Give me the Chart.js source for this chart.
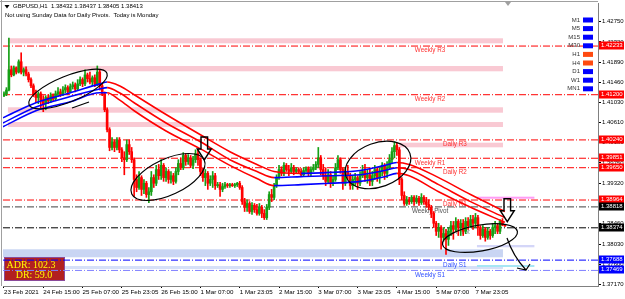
<!DOCTYPE html>
<html>
<head>
<meta charset="utf-8">
<title>GBPUSD,H1</title>
<script src="https://cdn.jsdelivr.net/npm/chart.js@4.4.1/dist/chart.umd.min.js"></script>
<style>
  html, body { margin: 0; padding: 0; background: #fff; }
  canvas { display: block; }
</style>
</head>
<body>
<canvas id="chart" width="625" height="299"></canvas>
<script>
// GBPUSD H1, 23 Feb - 8 Mar 2021. Open of each bar = close of the bar before.
const symbol = 'GBPUSD,H1';
const firstOpen = 1.4118;

const closes = [
  1.4122, 1.4130, 1.4173, 1.4162, 1.4177, 1.4168, 1.4190, 1.4168, 1.4173, 1.4164,
  1.4152, 1.4139, 1.4120, 1.4114, 1.4122, 1.4109, 1.4101, 1.4114, 1.4107, 1.4118,
  1.4111, 1.4122, 1.4126, 1.4120, 1.4130, 1.4135, 1.4126, 1.4137, 1.4141, 1.4132,
  1.4143, 1.4152, 1.4143, 1.4162, 1.4154, 1.4147, 1.4156, 1.4143, 1.4168, 1.4139,
  1.4122, 1.4088, 1.4046, 1.4008, 1.4020, 1.4008, 1.4024, 1.4003, 1.3986, 1.3982,
  1.4014, 1.3999, 1.3982, 1.3940, 1.3923, 1.3944, 1.3919, 1.3932, 1.3908, 1.3914,
  1.3944, 1.3932, 1.3961, 1.3948, 1.3970, 1.3944, 1.3957, 1.3940, 1.3948, 1.3936,
  1.3957, 1.3974, 1.3965, 1.3991, 1.3978, 1.3986, 1.3970, 1.3982, 1.3995, 1.3982,
  1.3957, 1.3944, 1.3953, 1.3932, 1.3940, 1.3948, 1.3927, 1.3929, 1.3919, 1.3925,
  1.3929, 1.3927, 1.3929, 1.3927, 1.3929, 1.3932, 1.3923, 1.3893, 1.3881, 1.3889,
  1.3872, 1.3885, 1.3876, 1.3868, 1.3881, 1.3868, 1.3859, 1.3881, 1.3908, 1.3902,
  1.3927, 1.3944, 1.3961, 1.3953, 1.3970, 1.3961, 1.3957, 1.3965, 1.3957, 1.3961,
  1.3957, 1.3950, 1.3959, 1.3963, 1.3953, 1.3961, 1.3965, 1.3972, 1.3986, 1.3961,
  1.3948, 1.3936, 1.3950, 1.3932, 1.3940, 1.3965, 1.3982, 1.3961, 1.3932, 1.3957,
  1.3948, 1.3927, 1.3940, 1.3944, 1.3932, 1.3948, 1.3957, 1.3944, 1.3950, 1.3936,
  1.3948, 1.3961, 1.3944, 1.3957, 1.3970, 1.3953, 1.3965, 1.3982, 1.3999, 1.4012,
  1.4003, 1.3940, 1.3906, 1.3889, 1.3897, 1.3893, 1.3902, 1.3893, 1.3900, 1.3891,
  1.3902, 1.3893, 1.3887, 1.3881, 1.3868, 1.3847, 1.3830, 1.3838, 1.3817, 1.3825,
  1.3813, 1.3830, 1.3842, 1.3834, 1.3851, 1.3838, 1.3847, 1.3830, 1.3851, 1.3842,
  1.3855, 1.3847, 1.3859, 1.3838, 1.3821, 1.3834, 1.3817, 1.3830, 1.3821, 1.3838,
  1.3842, 1.3830, 1.3851, 1.38432, 1.38413
];

const highs = [
  1.4126, 1.4135, 1.4240, 1.4181, 1.4181, 1.4179, 1.4194, 1.4209, 1.4177, 1.4179,
  1.4168, 1.4156, 1.4143, 1.4130, 1.4126, 1.4126, 1.4118, 1.4118, 1.4120, 1.4124,
  1.4122, 1.4128, 1.4135, 1.4132, 1.4137, 1.4141, 1.4139, 1.4143, 1.4147, 1.4145,
  1.4152, 1.4158, 1.4156, 1.4173, 1.4166, 1.4168, 1.4160, 1.4162, 1.4181, 1.4173,
  1.4143, 1.4126, 1.4092, 1.4050, 1.4029, 1.4024, 1.4029, 1.4029, 1.4008, 1.3999,
  1.4024, 1.4024, 1.4008, 1.3986, 1.3950, 1.3957, 1.3948, 1.3940, 1.3936, 1.3923,
  1.3957, 1.3950, 1.3970, 1.3972, 1.3982, 1.3974, 1.3965, 1.3961, 1.3957, 1.3953,
  1.3965, 1.3982, 1.3986, 1.3997, 1.3995, 1.3993, 1.3991, 1.3989, 1.4003, 1.4003,
  1.3986, 1.3965, 1.3961, 1.3957, 1.3948, 1.3957, 1.3953, 1.3934, 1.3934, 1.3932,
  1.3934, 1.3932, 1.3932, 1.3932, 1.3932, 1.3934, 1.3936, 1.3927, 1.3900, 1.3897,
  1.3893, 1.3891, 1.3889, 1.3887, 1.3889, 1.3885, 1.3876, 1.3887, 1.3914, 1.3919,
  1.3932, 1.3950, 1.3970, 1.3967, 1.3976, 1.3974, 1.3970, 1.3974, 1.3970, 1.3965,
  1.3965, 1.3963, 1.3965, 1.3967, 1.3967, 1.3967, 1.3972, 1.3978, 1.4008, 1.3991,
  1.3972, 1.3965, 1.3961, 1.3957, 1.3948, 1.3974, 1.3991, 1.3986, 1.3965, 1.3965,
  1.3970, 1.3953, 1.3948, 1.3953, 1.3948, 1.3957, 1.3970, 1.3972, 1.3961, 1.3965,
  1.3957, 1.3970, 1.3965, 1.3965, 1.3976, 1.3974, 1.3978, 1.3993, 1.4008, 1.4020,
  1.4018, 1.4008, 1.3944, 1.3914, 1.3904, 1.3902, 1.3906, 1.3906, 1.3906, 1.3904,
  1.3910, 1.3906, 1.3902, 1.3897, 1.3885, 1.3872, 1.3851, 1.3847, 1.3842, 1.3838,
  1.3834, 1.3838, 1.3851, 1.3851, 1.3859, 1.3855, 1.3855, 1.3855, 1.3859, 1.3859,
  1.3864, 1.3864, 1.3868, 1.3864, 1.3842, 1.3842, 1.3838, 1.3838, 1.3834, 1.3847,
  1.3851, 1.3847, 1.3855, 1.3857, 1.38437
];

const lows = [
  1.4116, 1.4118, 1.4128, 1.4158, 1.4160, 1.4164, 1.4166, 1.4164, 1.4160, 1.4160,
  1.4147, 1.4135, 1.4116, 1.4103, 1.4101, 1.4092, 1.4084, 1.4088, 1.4101, 1.4103,
  1.4105, 1.4107, 1.4116, 1.4116, 1.4118, 1.4124, 1.4120, 1.4124, 1.4132, 1.4126,
  1.4130, 1.4139, 1.4137, 1.4139, 1.4147, 1.4143, 1.4139, 1.4137, 1.4139, 1.4130,
  1.4118, 1.4084, 1.4041, 1.4001, 1.4003, 1.3999, 1.4003, 1.3997, 1.3978, 1.3950,
  1.3978, 1.3993, 1.3976, 1.3904, 1.3914, 1.3919, 1.3906, 1.3910, 1.3902, 1.3891,
  1.3906, 1.3923, 1.3927, 1.3940, 1.3940, 1.3936, 1.3936, 1.3932, 1.3932, 1.3929,
  1.3932, 1.3950, 1.3961, 1.3961, 1.3970, 1.3972, 1.3965, 1.3963, 1.3976, 1.3970,
  1.3948, 1.3936, 1.3927, 1.3919, 1.3927, 1.3923, 1.3919, 1.3923, 1.3904, 1.3914,
  1.3921, 1.3923, 1.3923, 1.3925, 1.3923, 1.3925, 1.3919, 1.3887, 1.3872, 1.3872,
  1.3868, 1.3866, 1.3870, 1.3864, 1.3864, 1.3859, 1.3855, 1.3855, 1.3876, 1.3893,
  1.3897, 1.3923, 1.3940, 1.3948, 1.3948, 1.3957, 1.3948, 1.3953, 1.3950, 1.3953,
  1.3953, 1.3946, 1.3948, 1.3955, 1.3948, 1.3948, 1.3957, 1.3961, 1.3965, 1.3950,
  1.3940, 1.3927, 1.3932, 1.3923, 1.3927, 1.3936, 1.3961, 1.3953, 1.3919, 1.3927,
  1.3940, 1.3919, 1.3919, 1.3927, 1.3919, 1.3927, 1.3944, 1.3936, 1.3932, 1.3927,
  1.3927, 1.3940, 1.3936, 1.3932, 1.3948, 1.3940, 1.3944, 1.3961, 1.3974, 1.3986,
  1.3991, 1.3929, 1.3897, 1.3885, 1.3885, 1.3887, 1.3889, 1.3885, 1.3889, 1.3885,
  1.3887, 1.3887, 1.3881, 1.3876, 1.3859, 1.3838, 1.3821, 1.3817, 1.3792, 1.3809,
  1.3781, 1.3800, 1.3821, 1.3813, 1.3830, 1.3821, 1.3821, 1.3821, 1.3825, 1.3834,
  1.3838, 1.3834, 1.3838, 1.3821, 1.3813, 1.3817, 1.3809, 1.3813, 1.3813, 1.3817,
  1.3825, 1.3825, 1.3825, 1.3842, 1.38405
];

const timeLabels = ['23 Feb 2021', '24 Feb 15:00', '25 Feb 07:00', '25 Feb 23:05', '26 Feb 15:00',
  '1 Mar 07:00', '1 Mar 23:05', '2 Mar 15:00', '3 Mar 07:00', '3 Mar 23:05', '4 Mar 15:00',
  '5 Mar 07:00', '7 Mar 23:05'];
const timeLabelBars = [0, 16, 32, 48, 64, 80, 96, 112, 128, 144, 160, 176, 192];

const priceTicks = [1.37170, 1.37600, 1.38030, 1.38460, 1.38890, 1.39320, 1.39750,
  1.40180, 1.40610, 1.41030, 1.41460, 1.41890, 1.42320, 1.42750];

// moving average band (upper / middle / lower), read at these bars
const maBars = [-0.4, 13, 27, 39, 42, 47, 53, 66, 80, 92, 103, 110, 121, 133, 145, 155, 160, 165, 177, 190, 204];
const maUpper = [1.4071, 1.4103, 1.4124, 1.4143, 1.4147, 1.4139, 1.4120, 1.4078, 1.4035, 1.3999, 1.3972,
  1.3957, 1.3953, 1.3955, 1.3959, 1.3970, 1.3976, 1.3972, 1.3944, 1.3908, 1.3872];
const maMid = [1.4060, 1.4094, 1.4116, 1.4132, 1.4135, 1.4124, 1.4103, 1.4060, 1.4020, 1.3982, 1.3957,
  1.3944, 1.3946, 1.3948, 1.3950, 1.3959, 1.3965, 1.3961, 1.3929, 1.3893, 1.3859];
const maLower = [1.4052, 1.4086, 1.4105, 1.4124, 1.4124, 1.4109, 1.4086, 1.4043, 1.4005, 1.3970, 1.3942,
  1.3927, 1.3929, 1.3932, 1.3936, 1.3946, 1.3953, 1.3948, 1.3914, 1.3881, 1.3849];

const pivotNames = ['Weekly R3', 'Weekly R2', 'Daily R3', 'Weekly R1', 'Daily R2', 'Daily R1',
  'Weekly Pivot', 'Daily Pivot', 'Daily S1', 'Weekly S1'];
const pivotValues = [1.42233, 1.41200, 1.40240, 1.39851, 1.39650, 1.38964, 1.38818, 1.38374, 1.37688, 1.37469];

// supply / demand zones
const zoneKinds = ['pink', 'pink', 'pink', 'pink', 'pink', 'magenta', 'blue', 'paleblue', 'lavender', 'cyan'];
const zoneStart = [1.6, 1.6, 1.6, 1.6, 161, 192.6, -0.4, -0.4, 192.6, 192.6];
const zoneEnd = [203.2, 203.2, 203.2, 203.2, 203.2, 216, 203.2, 203.2, 216, 216];
const zoneLow = [1.42291, 1.41697, 1.40818, 1.40514, 1.40083, 1.38992, 1.37748, 1.37500, 1.37960, 1.37542];
const zoneHigh = [1.42398, 1.41809, 1.40933, 1.40620, 1.40181, 1.39035, 1.37918, 1.37563, 1.38009, 1.37584];

const timeframes = ['M1', 'M5', 'M15', 'M30', 'H1', 'H4', 'D1', 'W1', 'MN1'];
const timeframeUp = [true, true, true, true, false, false, true, true, true];

const adrValue = 102.3;
const drValue = 59.0;

// ---------------------------------------------------------------------

const X_MIN = -0.4, X_MAX = 241.9;
const Y_MIN = 1.371385, Y_MAX = 1.43147;
const GREEN = '#16a016', RED = '#ff0000', BLUE = '#0000ff';
const FONT = "'Liberation Sans', Arial, sans-serif";

const opens = closes.map((c, i) => (i === 0 ? firstOpen : closes[i - 1]));
const candleColors = closes.map((c, i) => (c >= opens[i] ? GREEN : RED));

function pivotColor(name) {
  if (name.includes('Pivot')) return name.startsWith('Weekly') ? '#404040' : '#000000';
  if (name.includes('S')) return name.startsWith('Weekly') ? '#7f7fff' : BLUE;
  return RED;
}
function pivotTextColor(name) {
  if (name.includes('Pivot')) return name.startsWith('Weekly') ? '#505050' : '#808080';
  if (name.includes('S')) return '#3050ff';
  return '#ff3030';
}
function pivotBoxColor(name) {
  if (name.includes('Pivot')) return '#000000';
  if (name.includes('S')) return BLUE;
  return RED;
}
const zoneColors = {
  pink: '#f9c9d3', magenta: '#ff9cf4', blue: '#c9d5f3',
  paleblue: '#d6e0f8', lavender: '#d4d6f8', cyan: '#a6e6f4'
};

const datasets = [];

pivotNames.forEach((name, k) => {
  datasets.push({
    type: 'line',
    data: [{ x: X_MIN, y: pivotValues[k] }, { x: X_MAX, y: pivotValues[k] }],
    borderColor: pivotColor(name),
    borderWidth: 1,
    borderDash: [7, 2, 1, 2],
    pointRadius: 0,
    order: 10
  });
});

datasets.push({
  type: 'bar',
  data: closes.map((c, i) => ({ x: i, y: [lows[i], highs[i]] })),
  backgroundColor: candleColors,
  barThickness: 1,
  grouped: false,
  order: 6
});
datasets.push({
  type: 'bar',
  data: closes.map((c, i) => ({ x: i, y: [opens[i], c] })),
  backgroundColor: candleColors,
  barThickness: 2,
  minBarLength: 1,
  grouped: false,
  order: 5
});

[maUpper, maMid, maLower].forEach(series => {
  datasets.push({
    type: 'line',
    data: maBars.map((b, k) => ({ x: b, y: series[k] })),
    borderColor: RED,
    borderWidth: 1.6,
    pointRadius: 0,
    cubicInterpolationMode: 'monotone',
    segment: {
      borderColor: ctx => (ctx.p1.parsed.y >= ctx.p0.parsed.y ? BLUE : RED)
    },
    order: 2
  });
});

// zones, level names and the ADR box sit under the candles
const backgroundPlugin = {
  id: 'background',
  beforeDatasetsDraw(chart) {
    const ctx = chart.ctx, xs = chart.scales.x, ys = chart.scales.y, area = chart.chartArea;
    ctx.save();
    ctx.beginPath();
    ctx.rect(area.left, area.top, area.right - area.left, area.bottom - area.top);
    ctx.clip();

    zoneKinds.forEach((kind, k) => {
      const x0 = xs.getPixelForValue(zoneStart[k]);
      const x1 = xs.getPixelForValue(zoneEnd[k]);
      const y0 = ys.getPixelForValue(zoneHigh[k]);
      const y1 = ys.getPixelForValue(zoneLow[k]);
      ctx.fillStyle = zoneColors[kind];
      ctx.fillRect(x0, y0, x1 - x0, y1 - y0);
    });

    ctx.font = '6.3px ' + FONT;
    ctx.textAlign = 'center';
    ctx.textBaseline = 'top';
    pivotNames.forEach((name, k) => {
      const bar = name.startsWith('Weekly') ? 173.5 : 183.6;
      ctx.fillStyle = pivotTextColor(name);
      ctx.fillText(name, xs.getPixelForValue(bar), ys.getPixelForValue(pivotValues[k]) + 1.5);
    });

    // ADR panel
    ctx.fillStyle = '#b22020';
    ctx.fillRect(4.5, 257.5, 60, 23);
    ctx.strokeStyle = '#8a4a9a';
    ctx.lineWidth = 1;
    ctx.strokeRect(4.5, 257.5, 60, 23);
    ctx.fillStyle = '#ffff00';
    ctx.font = "10px 'Liberation Serif', 'DejaVu Serif', serif";
    ctx.textBaseline = 'middle';
    ctx.textAlign = 'center';
    ctx.fillText('ADR: ' + adrValue.toFixed(1), 31, 265);
    ctx.fillText('DR: ' + drValue.toFixed(1), 34, 275.5);
    ctx.restore();
  }
};

// hand drawn marks, anchored in bar / price space
const sketch = {
  ovals: [
    { bar: 26.07, price: 1.41321, rx: 42, ry: 13, tilt: -22 },
    { bar: 66.79, price: 1.39453, rx: 40, ry: 18, tilt: -25 },
    { bar: 152.3, price: 1.39708, rx: 34, ry: 22, tilt: -20 },
    { bar: 193.84, price: 1.38157, rx: 38, ry: 13, tilt: -10 }
  ],
  downArrows: [
    { bar: 81.57, price: 1.39814 },
    { bar: 204.96, price: 1.38504 }
  ]
};

const sketchPlugin = {
  id: 'sketch',
  afterDatasetsDraw(chart) {
    const ctx = chart.ctx, xs = chart.scales.x, ys = chart.scales.y;
    ctx.save();
    ctx.strokeStyle = '#000';
    ctx.lineWidth = 1.2;
    const centres = sketch.ovals.map(o => [xs.getPixelForValue(o.bar), ys.getPixelForValue(o.price)]);
    sketch.ovals.forEach((o, k) => {
      ctx.beginPath();
      ctx.ellipse(centres[k][0], centres[k][1], o.rx, o.ry, o.tilt * Math.PI / 180, 0, Math.PI * 2);
      ctx.stroke();
    });
    // little tail under the first oval
    let [cx, cy] = centres[0];
    ctx.beginPath();
    ctx.moveTo(cx + 4, cy + 19);
    ctx.lineTo(cx + 21, cy + 13);
    ctx.stroke();
    // curved arrow out of the last oval
    [cx, cy] = centres[3];
    ctx.beginPath();
    ctx.moveTo(cx + 27, cy);
    ctx.quadraticCurveTo(cx + 33, cy + 18, cx + 46, cy + 32);
    ctx.moveTo(cx + 37, cy + 30);
    ctx.lineTo(cx + 46, cy + 32);
    ctx.lineTo(cx + 50, cy + 26);
    ctx.stroke();

    ctx.lineWidth = 1.4;
    sketch.downArrows.forEach(a => {
      const tx = xs.getPixelForValue(a.bar), ty = ys.getPixelForValue(a.price);
      const sw = 3.3, hw = 7, hh = 11, sh = 12;
      ctx.beginPath();
      ctx.moveTo(tx - sw, ty - hh - sh);
      ctx.lineTo(tx + sw, ty - hh - sh);
      ctx.lineTo(tx + sw, ty - hh);
      ctx.lineTo(tx + hw, ty - hh);
      ctx.lineTo(tx, ty);
      ctx.lineTo(tx - hw, ty - hh);
      ctx.lineTo(tx - sw, ty - hh);
      ctx.closePath();
      ctx.stroke();
    });
    ctx.restore();
  }
};

// frame, header, timeframe panel and price tags on the axis
const overlayPlugin = {
  id: 'overlay',
  afterDraw(chart) {
    const ctx = chart.ctx, ys = chart.scales.y, area = chart.chartArea;
    ctx.save();
    ctx.strokeStyle = '#a0a0a0';
    ctx.lineWidth = 1;
    ctx.beginPath();
    ctx.moveTo(0, 1.5); ctx.lineTo(area.right, 1.5);
    ctx.moveTo(1.5, 0); ctx.lineTo(1.5, area.bottom);
    ctx.stroke();

    // chart shift marker
    ctx.fillStyle = '#a0a0a0';
    ctx.beginPath();
    ctx.moveTo(505, 2); ctx.lineTo(511, 2); ctx.lineTo(508, 6);
    ctx.closePath();
    ctx.fill();

    // header
    const last = closes.length - 1;
    ctx.fillStyle = '#000';
    ctx.font = '6px ' + FONT;
    ctx.textAlign = 'left';
    ctx.textBaseline = 'middle';
    ctx.beginPath();
    ctx.moveTo(4.5, 5); ctx.lineTo(9.5, 5); ctx.lineTo(7, 8.5);
    ctx.closePath();
    ctx.fill();
    ctx.fillText(symbol + '  ' + [opens[last], highs[last], lows[last], closes[last]]
      .map(v => v.toFixed(5)).join(' '), 13, 6.5);
    ctx.fillText('Not using Sunday Data for Daily Pivots.  Today is Monday', 5, 15.5);

    // timeframe panel
    timeframes.forEach((tf, k) => {
      const y = 20 + k * 8.6;
      ctx.fillStyle = '#303030';
      ctx.textAlign = 'right';
      ctx.fillText(tf, 580, y);
      ctx.fillStyle = timeframeUp[k] ? BLUE : '#ff4a10';
      ctx.fillRect(583, y - 2.5, 10, 5);
    });

    // price tags
    ctx.textAlign = 'left';
    pivotNames.forEach((name, k) => {
      const y = ys.getPixelForValue(pivotValues[k]);
      ctx.fillStyle = pivotBoxColor(name);
      ctx.fillRect(599, Math.round(y) - 4.5, 25, 8);
      ctx.fillStyle = '#fff';
      ctx.fillText(pivotValues[k].toFixed(5), 601, Math.round(y) - 0.5);
    });
    ctx.restore();
  }
};

Chart.defaults.font.family = FONT;

new Chart(document.getElementById('chart'), {
  type: 'bar',
  data: { datasets },
  options: {
    responsive: false,
    devicePixelRatio: 1,
    animation: false,
    layout: { padding: { left: 3, top: 3, right: 0, bottom: 0 } },
    plugins: { legend: { display: false }, tooltip: { enabled: false } },
    scales: {
      x: {
        type: 'linear',
        min: X_MIN,
        max: X_MAX,
        offset: false,
        afterBuildTicks: s => { s.ticks = timeLabelBars.map(v => ({ value: v })); },
        afterFit: s => { s.height = 13; s.paddingLeft = 0; s.paddingRight = 0; },
        ticks: {
          autoSkip: false, maxRotation: 0, minRotation: 0, align: 'start', padding: 1,
          color: '#000', font: { size: 6.2 },
          callback: (v, i) => timeLabels[i]
        },
        grid: { drawOnChartArea: false, drawTicks: true, tickLength: 2, color: '#000', offset: false },
        border: { display: true, color: '#808080' }
      },
      y: {
        position: 'right',
        min: Y_MIN,
        max: Y_MAX,
        afterBuildTicks: s => { s.ticks = priceTicks.map(v => ({ value: v })); },
        afterFit: s => { s.width = 27; s.paddingTop = 0; s.paddingBottom = 0; },
        ticks: {
          autoSkip: false, padding: 1, color: '#000', font: { size: 6 },
          callback: v => Number(v).toFixed(5)
        },
        grid: { drawOnChartArea: false, drawTicks: true, tickLength: 3, color: '#000' },
        border: { display: true, color: '#808080' }
      }
    }
  },
  plugins: [backgroundPlugin, sketchPlugin, overlayPlugin]
});
</script>
</body>
</html>
